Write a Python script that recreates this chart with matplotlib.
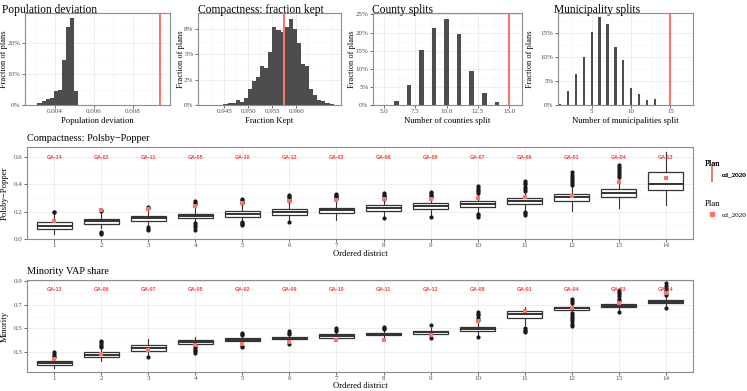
import matplotlib.pyplot as plt
from matplotlib.lines import Line2D

plt.rcParams['font.family'] = ['Liberation Serif', 'DejaVu Serif']

# ---- top row: distributions over the plan ensemble (percent of plans) ----
popdev_bins = [0.003205, 0.003415, 0.003625, 0.003835, 0.004045,
               0.004255, 0.004465, 0.004675, 0.004885, 0.005095]
popdev_pct = [0.6, 1.4, 2.0, 2.2, 4.5, 5.0, 14.5, 25.3, 28.0, 4.6]
popdev_plan = 0.00939

kept_bins = [0.94523, 0.94608, 0.94693, 0.94778, 0.94863, 0.94948, 0.95033,
             0.95118, 0.95203, 0.95288, 0.95373, 0.95458, 0.95543, 0.95628,
             0.95713, 0.95798, 0.95883, 0.95968, 0.96053, 0.96138, 0.96223,
             0.96308, 0.96393, 0.96478, 0.96563, 0.96648, 0.96733]
kept_pct = [0.1, 0.15, 0.2, 0.5, 0.25, 0.65, 1.55, 2.4, 2.75, 3.8, 3.6, 5.2,
            7.7, 7.4, 7.2, 7.7, 8.5, 7.5, 6.1, 4.0, 3.8, 1.6, 1.0, 0.5, 0.35,
            0.2, 0.1]
kept_plan = 0.9574

county_splits = [6, 7, 8, 9, 10, 11, 12, 13, 14]
county_pct = [1.0, 5.6, 15.1, 21.3, 23.8, 19.5, 9.5, 3.4, 0.7]
county_plan = 15

muni_splits = [1, 2, 3, 4, 5, 6, 7, 8, 9, 10, 11, 12, 13]
muni_pct = [0.3, 3.0, 6.5, 10.0, 15.3, 18.3, 16.9, 12.2, 9.4, 3.5, 2.2, 1.0, 1.3]
muni_plan = 15

# ---- Polsby-Popper by ordered district ----
districts = [1, 2, 3, 4, 5, 6, 7, 8, 9, 10, 11, 12, 13, 14]
pp_labels = ['GA-14', 'GA-02', 'GA-11', 'GA-05', 'GA-10', 'GA-12', 'GA-03',
             'GA-06', 'GA-08', 'GA-07', 'GA-09', 'GA-01', 'GA-04', 'GA-13']
pp_q1 = [0.073, 0.112, 0.134, 0.151, 0.165, 0.177, 0.192, 0.206, 0.221, 0.238, 0.257, 0.279, 0.308, 0.362]
pp_med = [0.097, 0.131, 0.151, 0.170, 0.185, 0.200, 0.214, 0.228, 0.243, 0.257, 0.279, 0.311, 0.338, 0.400]
pp_q3 = [0.126, 0.148, 0.168, 0.187, 0.202, 0.219, 0.231, 0.248, 0.262, 0.277, 0.299, 0.330, 0.369, 0.490]
pp_lo = [0.034, 0.078, 0.095, 0.118, 0.130, 0.140, 0.143, 0.160, 0.170, 0.190, 0.205, 0.209, 0.228, 0.253]
pp_hi = [0.187, 0.200, 0.215, 0.240, 0.255, 0.270, 0.285, 0.290, 0.300, 0.330, 0.350, 0.390, 0.450, 0.641]
pp_fliers = [[0.195, 0.200],
             [0.034, 0.042, 0.053, 0.205, 0.212],
             [0.066, 0.075, 0.090, 0.225, 0.233],
             [0.066, 0.085, 0.100, 0.114, 0.255, 0.266, 0.277],
             [0.102, 0.110, 0.120, 0.126, 0.262, 0.275, 0.285, 0.296],
             [0.126, 0.280, 0.292, 0.305, 0.315, 0.325],
             [0.295, 0.305, 0.315, 0.325, 0.332],
             [0.155, 0.296, 0.305, 0.315, 0.325, 0.338],
             [0.163, 0.305, 0.315, 0.325, 0.335, 0.345],
             [0.163, 0.175, 0.187, 0.338, 0.350, 0.362, 0.374, 0.386],
             [0.175, 0.188, 0.200, 0.355, 0.370, 0.385, 0.400, 0.412, 0.423],
             [0.395, 0.410, 0.425, 0.440, 0.455, 0.470, 0.490],
             [0.455, 0.470, 0.485, 0.500, 0.515, 0.530, 0.544],
             []]
pp_plan = [0.131, 0.214, 0.219, 0.243, 0.265, 0.282, 0.289, 0.296, 0.296, 0.301, 0.306, 0.313, 0.415, 0.449]

# ---- Minority VAP share by ordered district ----
min_labels = ['GA-13', 'GA-06', 'GA-07', 'GA-05', 'GA-02', 'GA-09', 'GA-10',
              'GA-11', 'GA-12', 'GA-08', 'GA-01', 'GA-04', 'GA-03', 'GA-14']
min_q1 = [0.193, 0.255, 0.310, 0.367, 0.390, 0.407, 0.423, 0.440, 0.454, 0.474, 0.586, 0.653, 0.678, 0.712]
min_med = [0.210, 0.275, 0.338, 0.385, 0.405, 0.418, 0.437, 0.452, 0.468, 0.492, 0.620, 0.670, 0.691, 0.726]
min_q3 = [0.227, 0.297, 0.362, 0.400, 0.418, 0.429, 0.451, 0.465, 0.482, 0.510, 0.648, 0.684, 0.704, 0.740]
min_lo = [0.165, 0.227, 0.278, 0.355, 0.370, 0.385, 0.400, 0.420, 0.430, 0.440, 0.530, 0.635, 0.655, 0.690]
min_hi = [0.245, 0.330, 0.410, 0.430, 0.435, 0.445, 0.470, 0.485, 0.500, 0.560, 0.684, 0.705, 0.725, 0.765]
min_fliers = [[0.255, 0.270, 0.285, 0.300],
              [0.340, 0.355, 0.370, 0.385, 0.395],
              [0.255],
              [0.290, 0.305, 0.320, 0.335, 0.350],
              [0.345, 0.355, 0.440, 0.450, 0.460],
              [0.365, 0.450, 0.462, 0.475],
              [0.475, 0.485, 0.500],
              [0.495, 0.505, 0.515],
              [0.418, 0.530],
              [0.426, 0.570, 0.590, 0.610, 0.625, 0.640],
              [0.470, 0.480, 0.490, 0.500],
              [0.520, 0.540, 0.560, 0.580, 0.600, 0.615, 0.630, 0.715, 0.730, 0.750],
              [0.642, 0.735, 0.750, 0.770, 0.790, 0.805, 0.820],
              [0.670, 0.780, 0.800, 0.820, 0.840, 0.860, 0.880]]
min_plan = [0.240, 0.285, 0.320, 0.360, 0.370, 0.385, 0.398, 0.400, 0.446, 0.558, 0.648, 0.673, 0.715, 0.796]

RED = '#F8766D'
LABEL_RED = '#FF3B3B'
BAR = '#4D4D4D'
INK = '#333333'
W, H = 747, 391

fig = plt.figure(figsize=(W / 100, H / 100), dpi=100)


def px_axes(x0, y0, x1, y1):
    return fig.add_axes([x0 / W, 1 - y1 / H, (x1 - x0) / W, (y1 - y0) / H])


def fig_text(x, y, s, **kw):
    return fig.text(x / W, 1 - y / H, s, **kw)


def theme_bw(ax):
    for s in ax.spines.values():
        s.set_color('#8C8C8C')
        s.set_linewidth(0.8)
    ax.grid(True, which='major', color='#EBEBEB', lw=0.6)
    ax.grid(True, which='minor', color='#F5F5F5', lw=0.4)
    ax.set_axisbelow(True)
    ax.tick_params(which='major', length=2.2, width=0.5, color=INK,
                   labelsize=5.0, labelcolor='#4D4D4D', pad=1.0)
    ax.tick_params(which='minor', length=0)


def hist_panel(box, title, title_x, xlab, ylab_x, bins, pct, width, plan,
               xlim, ylim, xticks, xticklabels, xminor, yticks, yticklabels, yminor):
    ax = px_axes(*box)
    theme_bw(ax)
    ax.bar(bins, pct, width=width, color=BAR, lw=0)
    ax.axvline(plan, color=RED, lw=1.5)
    ax.set_xlim(*xlim)
    ax.set_ylim(*ylim)
    ax.set_xticks(xticks, xticklabels)
    ax.set_xticks(xminor, minor=True)
    ax.set_yticks(yticks, yticklabels)
    ax.set_yticks(yminor, minor=True)
    fig_text(title_x, 10, title, fontsize=8.3, va='center')
    fig_text((box[0] + box[2]) / 2, 121, xlab, fontsize=6.2, ha='center', va='center')
    fig_text(ylab_x, (box[1] + box[3]) / 2, 'Fraction of plans', fontsize=6.0,
             rotation=90, ha='center', va='center')
    return ax


hist_panel((25, 13, 170, 105), 'Population deviation', 2, 'Population deviation', 4,
           popdev_bins, popdev_pct, 0.00021, popdev_plan,
           (0.00246, 0.0099), (0, 29.7),
           [0.004, 0.006, 0.008], ['0.004', '0.006', '0.008'], [0.003, 0.005, 0.007, 0.009],
           [0, 10, 20], ['0%', '10%', '20%'], [5, 15, 25])

hist_panel((198, 13, 341, 105), 'Compactness: fraction kept', 198, 'Fraction Kept', 181,
           kept_bins, kept_pct, 0.00085, kept_plan,
           (0.9395, 0.9693), (0, 9.07),
           [0.945, 0.950, 0.955, 0.960], ['0.945', '0.950', '0.955', '0.960'],
           [0.9425, 0.9475, 0.9525, 0.9575, 0.9625, 0.9675],
           [0, 2.5, 5, 7.5], ['0%', '2%', '5%', '8%'], [1.25, 3.75, 6.25, 8.75])

hist_panel((373, 13, 522, 105), 'County splits', 372, 'Number of counties split', 352,
           county_splits, county_pct, 0.37, county_plan,
           (4.15, 16.0), (0, 25.4),
           [5, 7.5, 10, 12.5, 15], ['5.0', '7.5', '10.0', '12.5', '15.0'],
           [6.25, 8.75, 11.25, 13.75],
           [0, 5, 10, 15, 20, 25], ['0%', '5%', '10%', '15%', '20%', '25%'],
           [2.5, 7.5, 12.5, 17.5, 22.5])

hist_panel((558, 13, 693, 105), 'Municipality splits', 554, 'Number of municipalities split', 530,
           muni_splits, muni_pct, 0.3, muni_plan,
           (0.71, 17.86), (0, 19.2),
           [5, 10, 15], ['5', '10', '15'], [2.5, 7.5, 12.5, 17.5],
           [0, 5, 10, 15], ['0%', '5%', '10%', '15%'], [2.5, 7.5, 12.5, 17.5])


def box_panel(box, title, ylab, q1, med, q3, lo, hi, fliers, plan, labels, label_y,
              ylim, yticks, yticklabels, yminor):
    ax = px_axes(*box)
    theme_bw(ax)
    stats = [dict(q1=a, med=b, q3=c, whislo=d, whishi=e, fliers=f)
             for a, b, c, d, e, f in zip(q1, med, q3, lo, hi, fliers)]
    line = dict(color=INK, lw=0.8)
    ax.bxp(stats, positions=districts, widths=0.75, patch_artist=True, showcaps=False,
           boxprops=dict(facecolor='white', edgecolor=INK, lw=0.9),
           medianprops=dict(color=INK, lw=1.4), whiskerprops=line,
           flierprops=dict(marker='o', markerfacecolor='#1A1A1A', markeredgecolor='none',
                           markersize=3.0))
    ax.scatter(districts, plan, marker='s', s=12, color=RED, lw=0, zorder=5)
    for d, lab in zip(districts, labels):
        ax.text(d, label_y, lab, color=LABEL_RED, fontsize=3.8, fontweight='bold',
                family=['Liberation Sans', 'DejaVu Sans'], ha='center', va='center')
    ax.set_xlim(0.42, 14.58)
    ax.set_ylim(*ylim)
    ax.set_xticks(districts, [str(d) for d in districts])
    ax.set_yticks(yticks, yticklabels)
    ax.set_yticks(yminor, minor=True)
    fig_text(box[0], box[1] - 9, title, fontsize=7.4, va='center')
    fig_text((box[0] + box[2]) / 2, box[3] + 14.5, 'Ordered district', fontsize=6.2,
             ha='center', va='center')
    fig_text(4.5, (box[1] + box[3]) / 2, ylab, fontsize=6.2, rotation=90,
             ha='center', va='center')
    return ax


box_panel((27, 147, 693, 239), 'Compactness: Polsby\u2212Popper', 'Polsby\u2212Popper',
          pp_q1, pp_med, pp_q3, pp_lo, pp_hi, pp_fliers, pp_plan, pp_labels, 0.6,
          (0.0, 0.675), [0.0, 0.2, 0.4, 0.6], ['0.0', '0.2', '0.4', '0.6'], [0.1, 0.3, 0.5])

box_panel((27, 280, 693, 372), 'Minority VAP share', 'Minority',
          min_q1, min_med, min_q3, min_lo, min_hi, min_fliers, min_plan, min_labels, 0.83,
          (0.132, 0.908), [0.3, 0.5, 0.7, 0.9], ['0.3', '0.5', '0.7', '0.9'], [0.2, 0.4, 0.6, 0.8])

# ---- legends ----
leg_font = dict(size=5.2)
leg_title = dict(size=6.2)
leg1 = fig.legend(handles=[Line2D([], [], color=RED, marker='|', ls='none',
                                  markersize=11, markeredgewidth=1.4)],
                  labels=['cd_2020'], title='Plan', loc='upper left',
                  bbox_to_anchor=(705 / W, 1 - 160 / H), frameon=False,
                  prop=leg_font, title_fontproperties=leg_title,
                  handlelength=1.9, handletextpad=0.4, borderaxespad=0, borderpad=0)
leg1._legend_box.align = 'left'
leg2 = fig.legend(handles=[Line2D([], [], color=RED, marker='s', ls='none', markersize=3.5)],
                  labels=['cd_2020'], title='Plan', loc='upper left',
                  bbox_to_anchor=(705 / W, 1 - 200 / H), frameon=False,
                  prop=leg_font, title_fontproperties=leg_title,
                  handlelength=1.9, handletextpad=0.4, borderaxespad=0, borderpad=0)
leg2._legend_box.align = 'left'
fig.add_artist(leg1)

fig.savefig('out.png', dpi=100)
